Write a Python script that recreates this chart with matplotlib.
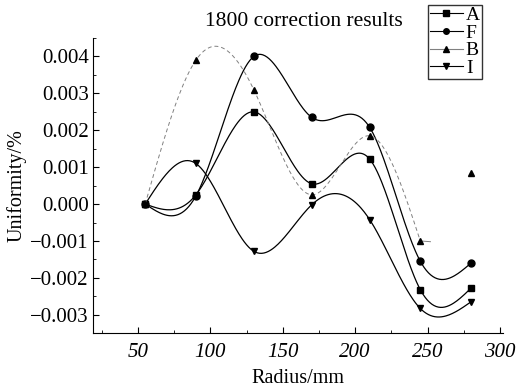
import numpy as np
import matplotlib
matplotlib.use('Agg')
from matplotlib import pyplot as plt
from matplotlib.ticker import AutoMinorLocator

plt.rcParams['font.family'] = ['Liberation Serif', 'DejaVu Serif']

radius = [55, 90, 130, 170, 210, 245, 280]
A = [0.0, 0.00025, 0.0025, 0.00055, 0.00122, -0.00232, -0.00228]
F = [0.0, 0.00022, 0.0040, 0.00235, 0.00208, -0.00155, -0.00160]
B = [0.0, 0.0039, 0.0031, 0.00025, 0.00185, -0.00100, 0.00083]
I = [0.0, 0.0011, -0.00128, -0.00002, -0.00042, -0.00283, -0.00265]


def smooth(x, y, n=300):
    # natural cubic spline through the points
    x = np.asarray(x, float)
    y = np.asarray(y, float)
    k = len(x)
    h = np.diff(x)
    M = np.zeros((k, k))
    r = np.zeros(k)
    M[0, 0] = M[-1, -1] = 1
    for i in range(1, k - 1):
        M[i, i - 1] = h[i - 1]
        M[i, i] = 2 * (h[i - 1] + h[i])
        M[i, i + 1] = h[i]
        r[i] = 6 * ((y[i + 1] - y[i]) / h[i] - (y[i] - y[i - 1]) / h[i - 1])
    m = np.linalg.solve(M, r)
    xs = np.linspace(x[0], x[-1], n)
    j = np.clip(np.searchsorted(x, xs) - 1, 0, k - 2)
    t0 = x[j + 1] - xs
    t1 = xs - x[j]
    hj = h[j]
    ys = (m[j] * t0**3 + m[j + 1] * t1**3) / (6 * hj) \
        + (y[j] / hj - m[j] * hj / 6) * t0 \
        + (y[j + 1] / hj - m[j + 1] * hj / 6) * t1
    return xs, ys


fig = plt.figure(figsize=(5.2, 3.92), dpi=100)
ax = fig.add_axes([0.179, 0.15, 0.788, 0.753])

for ys, mk, lab in [(A, 's', 'A'), (F, 'o', 'F'), (I, 'v', 'I')]:
    sx, sy = smooth(radius, ys)
    ax.plot(sx, sy, color='black', lw=0.9)
    ax.plot(radius, ys, ls='none', marker=mk, color='black', ms=5)

# B curve is drawn faint and stops short of the last point
bx, by = smooth(radius[:-1], B[:-1])
ax.plot(bx, by, color='gray', lw=0.7, ls=(0, (4, 3)))
ax.plot([245, 252], [B[5], B[5] - 0.00002], color='gray', lw=0.7)
ax.plot(radius, B, ls='none', marker='^', color='black', ms=5)

# legend handles
h = []
for mk, lab, c in [('s', 'A', 'black'), ('o', 'F', 'black'),
                   ('^', 'B', 'gray'), ('v', 'I', 'black')]:
    l, = ax.plot([], [], color=c, lw=0.8, marker=mk, mfc='black',
                 mec='black', ms=4, label=lab)
    h.append(l)
leg = fig.legend(handles=h, loc='upper left', bbox_to_anchor=(0.823, 0.988),
                 frameon=True, fancybox=False, edgecolor='black',
                 handlelength=1.7, handletextpad=0.15, borderpad=0.1,
                 labelspacing=0.0, borderaxespad=0, fontsize=14)
leg.get_frame().set_linewidth(1.0)

ax.set_xlim(19, 302)
ax.set_ylim(-0.0035, 0.0045)
ax.set_xticks([50, 100, 150, 200, 250, 300])
ax.set_yticks([-0.003, -0.002, -0.001, 0.0, 0.001, 0.002, 0.003, 0.004])
ax.set_yticklabels(['\u22120.003', '\u22120.002', '\u22120.001', '0.000',
                    '0.001', '0.002', '0.003', '0.004'])
for t in ax.get_xticklabels():
    t.set_fontstyle('italic')
ax.xaxis.set_minor_locator(AutoMinorLocator(2))
ax.yaxis.set_minor_locator(AutoMinorLocator(2))
ax.tick_params(direction='in', labelsize=15, length=4, width=0.8)
ax.tick_params(axis='x', pad=7)
ax.tick_params(axis='y', pad=3)
ax.tick_params(which='minor', direction='in', length=2)
ax.spines['top'].set_visible(False)
ax.spines['right'].set_visible(False)

ax.set_xlabel('Radius/mm', fontsize=14.5, labelpad=5)
ax.set_ylabel('Uniformity/%', fontsize=14.5, labelpad=3)
fig.text(0.585, 0.946, '1800 correction results', ha='center', va='center',
         fontsize=15.5)

plt.savefig('out.png', dpi=100)
